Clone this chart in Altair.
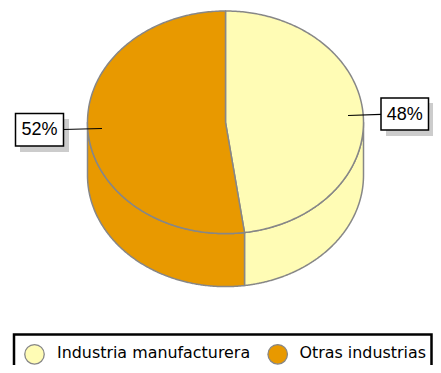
import numpy as np
import pandas as pd
import altair as alt

categories = ["Industria manufacturera", "Otras industrias"]
shares = [47.8, 52.2]
colors = ["#FFFCB5", "#E89900"]
labels = ["48%", "52%"]
OUT = "#878787"

# pie geometry in screen pixels (x right, y down in the scale's range)
CX, CY, RX, RY, DEPTH = 225.5, 122.3, 138, 111.3, 53
X0, Y0, W, H = 8, 8, 425, 357

x_scale = alt.Scale(domain=[X0, X0 + W], range=[0, W], nice=False, zero=False)
y_scale = alt.Scale(domain=[Y0, Y0 + H], range=[0, H], nice=False, zero=False)
X = lambda f="x": alt.X(f + ":Q", scale=x_scale, axis=None)
Y = lambda f="y": alt.Y(f + ":Q", scale=y_scale, axis=None)


def rim(a0, a1, dy=0.0):
    t = np.radians(np.linspace(a0, a1, 241))
    return list(CX + RX * np.sin(t)), list(CY + dy - RY * np.cos(t))


split = 360 * shares[0] / sum(shares)
layers = []


def poly(xs, ys, fill, sw=1.5):
    d = pd.DataFrame({"x": xs, "y": ys, "i": range(len(xs))})
    return alt.Chart(d).mark_line(fill=fill, stroke=OUT, strokeWidth=sw, clip=False, strokeJoin="round", interpolate="linear").encode(
        x=X(), y=Y(), order="i:Q")


# side walls
for (a0, a1, c) in [(90, split, colors[0]), (split, 270, colors[1])]:
    x1, y1 = rim(a0, a1)
    x2, y2 = rim(a1, a0, DEPTH)
    layers.append(poly(x1 + x2 + x1[:1], y1 + y2 + y1[:1], c))

# top slices
for (a0, a1, c) in [(0, split, colors[0]), (split, 360, colors[1])]:
    x1, y1 = rim(a0, a1)
    layers.append(poly([CX] + x1 + [CX], [CY] + y1 + [CY], c))


def rect(x, x2, y, y2, **kw):
    d = pd.DataFrame({"x": [x], "x2": [x2], "y": [y], "y2": [y2]})
    return alt.Chart(d).mark_rect(clip=False, **kw).encode(x=X(), x2="x2:Q", y=Y(), y2="y2:Q")


def seg(x, x2, y, y2):
    d = pd.DataFrame({"x": [x], "x2": [x2], "y": [y], "y2": [y2]})
    return alt.Chart(d).mark_rule(color="#000000", strokeWidth=1.2, clip=False).encode(x=X(), x2="x2:Q", y=Y(), y2="y2:Q")


# data labels: shadow, leader, box, text
layers += [
    rect(20, 69, 119, 152, fill="#CCCCCC"),
    rect(386, 433, 103, 136, fill="#CCCCCC"),
    seg(63, 102, 129.5, 128.5),
    seg(381, 348, 114.3, 115.5),
    rect(15.5, 63.5, 113.5, 146, fill="#FFFFFF", stroke="#000000", strokeWidth=1.5),
    rect(381, 428.5, 98, 130, fill="#FFFFFF", stroke="#000000", strokeWidth=1.5),
]
lab = pd.DataFrame({"x": [39.5, 404.7], "y": [130, 114.5], "t": [labels[1], labels[0]]})
layers.append(alt.Chart(lab).mark_text(font="Liberation Sans", fontSize=18, color="#000000", baseline="middle", clip=False).encode(
    x=X(), y=Y(), text="t:N"))

# legend
layers.append(rect(14, 431.5, 334.5, 380, fill="#FFFFFF", stroke="#000000", strokeWidth=2.5))
leg = pd.DataFrame({"x": [34.5, 277.7], "y": [354.3, 354.3], "c": categories})
layers.append(alt.Chart(leg).mark_point(filled=True, size=380, stroke=OUT, strokeWidth=1.3, opacity=1, clip=False).encode(
    x=X(), y=Y(), fill=alt.Fill("c:N", scale=alt.Scale(domain=categories, range=colors), legend=None)))
legt = pd.DataFrame({"x": [57, 299.5], "y": [353, 353], "t": categories})
layers.append(alt.Chart(legt).mark_text(font="DejaVu Sans", fontSize=15.9, color="#000000", align="left", baseline="middle", clip=False).encode(
    x=X(), y=Y(), text="t:N"))

chart = alt.layer(*layers).properties(width=W, height=H, padding=0, autosize=alt.AutoSizeParams(type="none"), background="#FFFFFF").configure_view(stroke=None)
chart.save("out.html", embed_options={"renderer": "svg", "actions": False})
